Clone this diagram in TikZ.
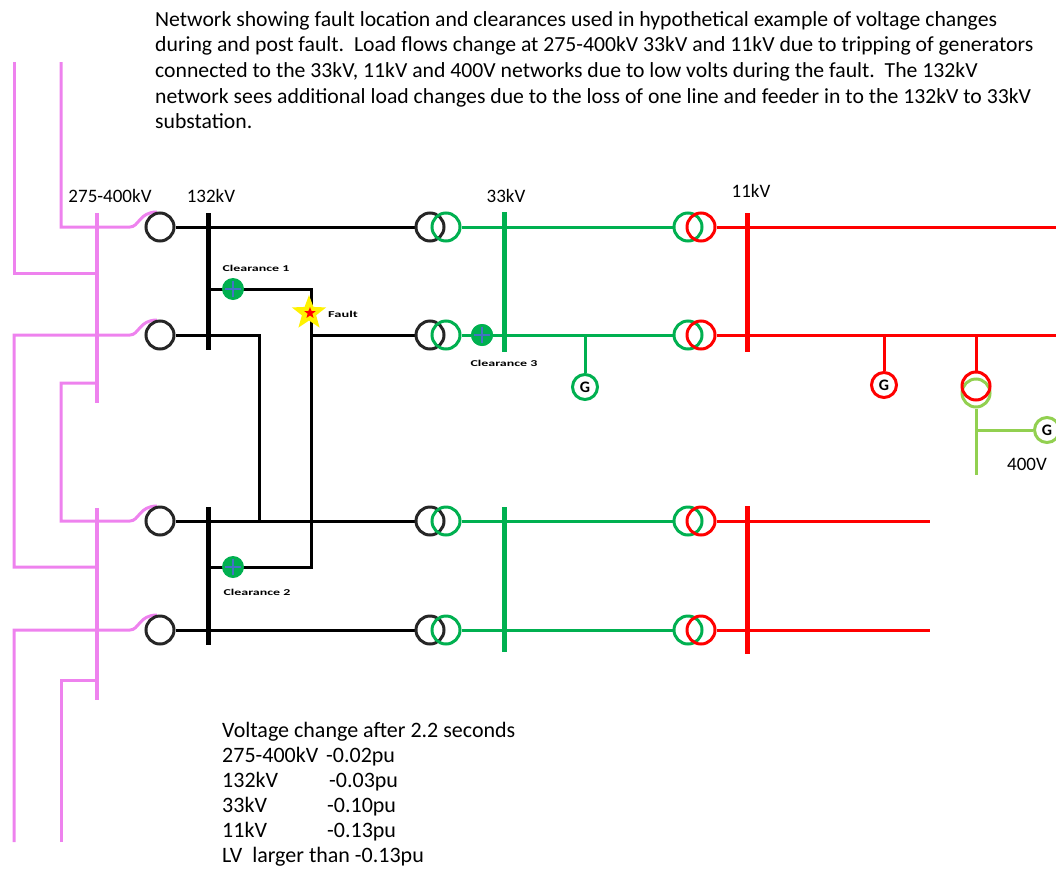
\documentclass[tikz,border=0pt]{standalone}
\usepackage{fontspec}
\setmainfont{Carlito}
\newfontfamily\titlef[FakeStretch=1.01]{Carlito}
\usetikzlibrary{shapes.geometric}
\definecolor{pinkc}{RGB}{238,130,238}
\definecolor{grn}{RGB}{0,176,80}
\definecolor{redc}{RGB}{255,0,0}
\definecolor{lgrn}{RGB}{146,208,80}
\definecolor{bluec}{RGB}{68,114,196}
\tikzset{
  pinkl/.style={draw=pinkc, line width=3pt},
  pinkbus/.style={draw=pinkc, line width=4pt},
  blk/.style={draw=black, line width=3pt},
  blkbus/.style={draw=black, line width=5pt},
  grnl/.style={draw=grn, line width=3pt},
  grnbus/.style={draw=grn, line width=5pt},
  redl/.style={draw=redc, line width=3pt},
  redbus/.style={draw=redc, line width=5pt},
  lgrnl/.style={draw=lgrn, line width=3pt},
  ring/.style={circle, line width=3pt, minimum size=28pt, inner sep=0pt},
  gen/.style={circle, line width=3pt, fill=white, minimum size=25pt, inner sep=0pt, font=\fontsize{16}{16}\selectfont\bfseries},
  brk/.style={circle, fill=grn, minimum size=22pt, inner sep=0pt},
  crossl/.style={draw=bluec, line width=1.2pt},
  small/.style={font=\fontsize{9}{9}\selectfont\bfseries, inner sep=0pt},
  lab/.style={font=\fontsize{19}{19}\selectfont, inner sep=0pt},
  titletxt/.style={font=\titlef\fontsize{21.5}{21.5}\selectfont, inner sep=0pt, anchor=base west},
  bottxt/.style={font=\fontsize{22}{22}\selectfont, inner sep=0pt, anchor=base west}
}
\begin{document}
\begin{tikzpicture}[x=1pt,y=-1pt]
\useasboundingbox (0,0) rectangle (1056,870);

% ---------- title ----------
\node[titletxt] (t1) at (155,26) {Network showing fault location and clearances used in hypothetical example of voltage changes};
\node[titletxt] (t2) at (155,51) {during and post fault.\ \ Load flows change at 275-400kV 33kV and 11kV due to tripping of generators};
\node[titletxt] (t3) at (155,77) {connected to the 33kV, 11kV and 400V networks due to low volts during the fault.\ \ The 132kV};
\node[titletxt] (t4) at (155,103) {network sees additional load changes due to the loss of one line and feeder in to the 132kV to 33kV};
\node[titletxt] (t5) at (155,128) {substation.};

% ---------- level labels ----------
\node[lab] (l400) at (110,196) {275-400kV};
\node[lab] (l132) at (211,196) {132kV};
\node[lab] (l33) at (506,196) {33kV};
\node[lab] (l11) at (751,191) {11kV};

% ---------- coordinates ----------
\coordinate (p14a) at (14,62);
\coordinate (p61a) at (61,62);
\coordinate (p14c) at (14,842);
\coordinate (p61c) at (61,842);

% ---------- ring nodes (drawn later) ----------
\foreach \i/\y in {1/227,2/335,3/521,4/630}{
  \node[ring] (c\i) at (160,\y) {};
  \node[ring] (tab\i) at (430,\y) {};
  \node[ring] (tag\i) at (446,\y) {};
  \node[ring] (tbg\i) at (688,\y) {};
  \node[ring] (tbr\i) at (701,\y) {};
}

% ---------- pink network ----------
\draw[pinkl] (p14a) -- (14,273) -- (97,273);
\draw[pinkl] (p61a) -- (61,227) -- (130,227) .. controls (139,227) and (139,212) .. (157,212);
\draw[pinkl] (97,567) -- (14,567) -- (14,335) -- (130,335) .. controls (139,335) and (139,320) .. (157,320);
\draw[pinkl] (97,383) -- (61,383) -- (61,521) -- (130,521) .. controls (139,521) and (139,506) .. (157,506);
\draw[pinkl] (p14c) -- (14,630) -- (130,630) .. controls (139,630) and (139,615) .. (157,615);
\draw[pinkl] (p61c) -- (61,680) -- (97,680);
\draw[pinkbus] (97,213) -- (97,403);
\draw[pinkbus] (97,508) -- (97,700);

% ---------- 132kV network ----------
\coordinate (j2) at (259,335);
\coordinate (j3) at (259,521);
\coordinate (f1) at (311,289);
\coordinate (f2) at (311,567);
\coordinate (f3) at (311,335);
\draw[blk] (c1.east) -- (tab1.west);
\draw[blk] (c2.east) -- (j2) -- (j3);
\draw[blk] (c3.east) -- (tab3.west);
\draw[blk] (c4.east) -- (tab4.west);
\draw[blk] (208,289) -- (f1) -- (f2) -- (208,567);
\draw[blk] (f3) -- (tab2.west);
\draw[blkbus] (208,213) -- (208,350);
\draw[blkbus] (208,507) -- (208,645);

% ---------- 33kV network ----------
\node[brk] (cl3) at (482,335) {};
\foreach \i in {1,3,4}{ \draw[grnl] (tag\i.east) -- (tbg\i.west); }
\draw[grnl] (tag2.east) -- (cl3) -- (tbg2.west);
\draw[grnbus] (504,212) -- (504,352);
\draw[grnbus] (504,507) -- (504,652);
\node[gen, draw=grn] (g33) at (585,387) {G};
\draw[grnl] (585,335) -- (g33.north);

% ---------- 11kV network ----------
\coordinate (e1) at (1056,227);
\coordinate (e2) at (1056,335);
\coordinate (e3) at (930,521);
\coordinate (e4) at (930,630);
\foreach \i in {1,2,3,4}{ \draw[redl] (tbr\i.east) -- (e\i); }
\draw[redbus] (747,213) -- (747,352);
\draw[redbus] (747,506) -- (747,654);
\node[gen, draw=redc] (g11) at (884,385) {G};
\draw[redl] (884,335) -- (g11.north);

% LV transformer
\node[ring, draw=lgrn] (lvg) at (976,393) {};
\node[ring, draw=redc] (lvr) at (976,386) {};
\draw[redl] (976,335) -- (lvr.north);
\coordinate (lvend) at (976,475);
\coordinate (lvj) at (976,430);
\node[gen, draw=lgrn] (g400) at (1047,430) {G};
\draw[lgrnl] (lvg.south) -- (lvend);
\draw[lgrnl] (lvj) -- (g400.west);
\node[lab] (l400v) at (1027,464) {400V};

% ---------- draw rings ----------
\foreach \i in {1,2,3,4}{
  \draw[line width=3pt, draw=black!85] (c\i) circle (14pt);
  \draw[line width=3pt, draw=black!85] (tab\i) circle (14pt);
  \draw[line width=3pt, draw=grn] (tag\i) circle (14pt);
  \draw[line width=3pt, draw=grn] (tbg\i) circle (14pt);
  \draw[line width=3pt, draw=redc] (tbr\i) circle (14pt);
}

% ---------- breakers ----------
\node[brk] (cl1) at (233,289) {};
\node[brk] (cl2) at (233,567) {};
\node[brk] (cl3b) at (482,335) {};
\foreach \n in {cl1,cl2,cl3b}{
  \draw[crossl] (\n.center) ++(-8,0) -- ++(16,0);
  \draw[crossl] (\n.center) ++(0,-8) -- ++(0,16);
}
\node[small] (lc1) at (256,268) {\scalebox{1.55}[1]{Clearance 1}};
\node[small] (lc2) at (257,592) {\scalebox{1.55}[1]{Clearance 2}};
\node[small] (lc3) at (504,363) {\scalebox{1.55}[1]{Clearance 3}};

% ---------- fault ----------
\node[star, star points=5, star point ratio=2.4, fill=yellow, minimum size=36pt, inner sep=0pt] (fault) at (309,313) {};
\node[star, star points=5, star point ratio=2.4, fill=redc, minimum size=12pt, inner sep=0pt] (faultc) at (310,313) {};
\node[small, anchor=west] (lf) at (328,314) {\scalebox{1.6}[1]{Fault}};

% ---------- results ----------
\node[bottxt] (b1) at (222,737) {Voltage change after 2.2 seconds};
\node[bottxt] (b2) at (222,762) {275-400kV};
\node[bottxt] (b2v) at (326,762) {-0.02pu};
\node[bottxt] (b3) at (222,787) {132kV};
\node[bottxt] (b3v) at (329,787) {-0.03pu};
\node[bottxt] (b4) at (222,812) {33kV};
\node[bottxt] (b4v) at (327,812) {-0.10pu};
\node[bottxt] (b5) at (222,837) {11kV};
\node[bottxt] (b5v) at (327,837) {-0.13pu};
\node[bottxt] (b6) at (222,862) {LV\ \ larger than -0.13pu};
\end{tikzpicture}
\end{document}
